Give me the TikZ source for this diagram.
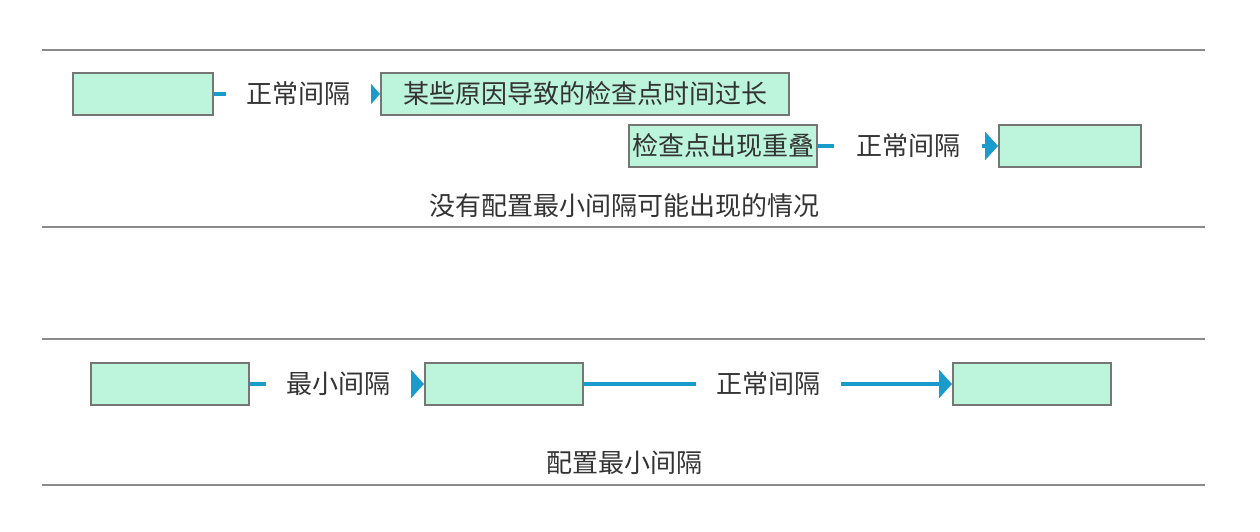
\documentclass[tikz,border=0pt]{standalone}
\usepackage{fontspec}
\setmainfont{Noto Sans CJK SC}
\usetikzlibrary{arrows.meta}
\definecolor{boxfill}{HTML}{BDF5DC}
\definecolor{boxdraw}{HTML}{767676}
\definecolor{conn}{HTML}{1B9BCC}
\definecolor{txt}{HTML}{333333}
\definecolor{rule}{HTML}{8A8A8A}
\tikzset{
  box/.style={draw=boxdraw, fill=boxfill, line width=2pt, inner sep=0pt, minimum height=42pt, text=txt, font=\fontsize{26}{29}\selectfont, anchor=north west},
  lbl/.style={fill=white, inner sep=0pt, text=txt, font=\fontsize{26}{29}\selectfont},
  captiontext/.style={text=txt, font=\fontsize{26}{29}\selectfont},
  link/.style={draw=conn, line width=3.5pt, -{Triangle[length=13pt,width=28pt]}},
  smalllink/.style={draw=conn, line width=3.5pt, -{Triangle[length=9pt,width=20pt]}},
  sep/.style={draw=rule, line width=1.5pt},
}
\begin{document}
\begin{tikzpicture}[x=1pt,y=-1pt]
\useasboundingbox (0,0) rectangle (1260,532);
% separators
\draw[sep] (42,50) -- (1205,50);
\draw[sep] (42,227) -- (1205,227);
\draw[sep] (42,339) -- (1205,339);
\draw[sep] (42,485) -- (1205,485);
% top section
\node[box, minimum width=140pt] (a) at (72,72) {};
\node[box, minimum width=408pt] (b) at (380,72) {某些原因导致的检查点时间过长};
\draw[smalllink] (a.east) -- (b.west);
\node[lbl, minimum width=145pt, minimum height=30pt] (la) at (298,94) {正常间隔};
\node[box, minimum width=188pt] (c) at (628,124) {检查点出现重叠};
\node[box, minimum width=142pt] (d) at (998,124) {};
\draw[link] (c.east) -- (d.west);
\node[lbl, minimum width=148pt, minimum height=30pt] (lc) at (908,146) {正常间隔};
\node[captiontext] (cap1) at (624,206) {没有配置最小间隔可能出现的情况};
% bottom section
\node[box, minimum width=158pt] (e) at (90,362) {};
\node[box, minimum width=158pt] (f) at (424,362) {};
\node[box, minimum width=158pt] (g) at (952,362) {};
\draw[link] (e.east) -- (f.west);
\node[lbl, minimum width=145pt, minimum height=30pt] (le) at (338,384) {最小间隔};
\draw[link] (f.east) -- (g.west);
\node[lbl, minimum width=145pt, minimum height=30pt] (lf) at (768,384) {正常间隔};
\node[captiontext] (cap2) at (624,463) {配置最小间隔};
\end{tikzpicture}
\end{document}
